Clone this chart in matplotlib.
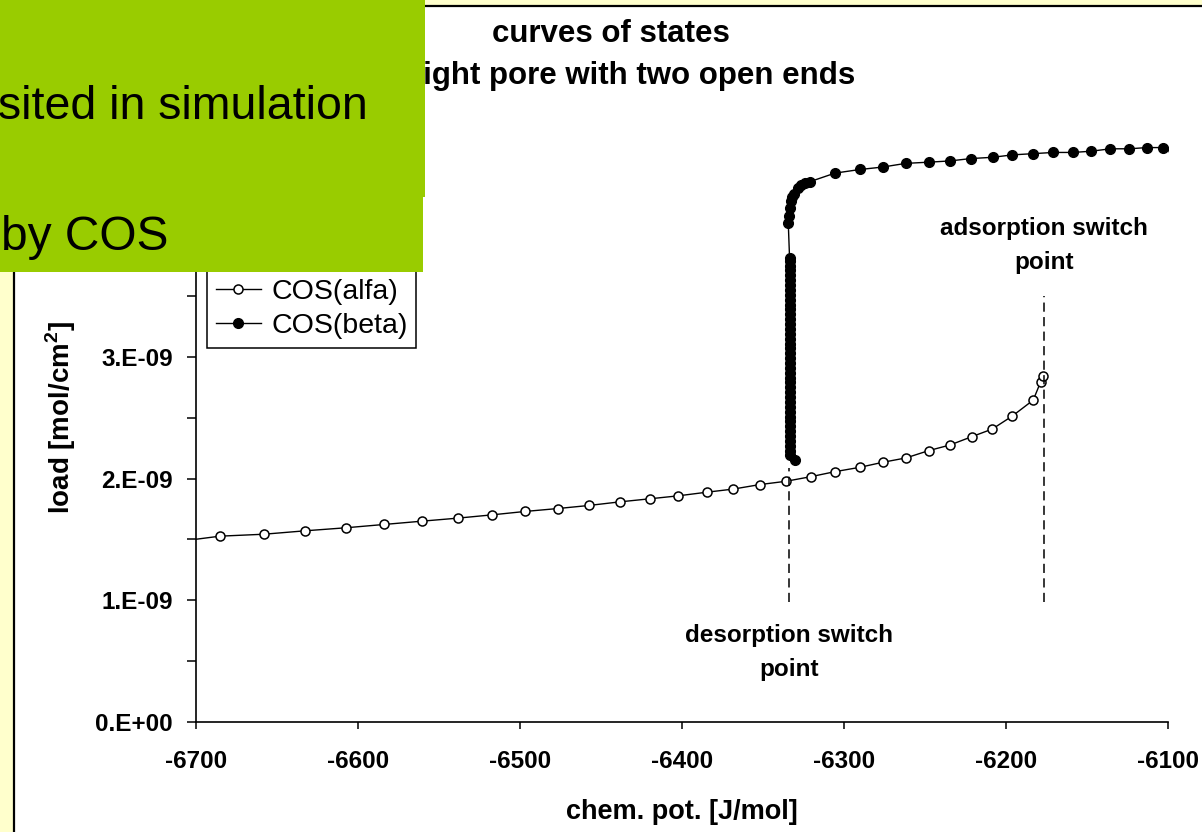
import numpy as np
import matplotlib.pyplot as plt
from matplotlib.patches import Rectangle

plt.rcParams['font.family'] = ['Liberation Sans', 'DejaVu Sans']
plt.rcParams['mathtext.fontset'] = 'custom'
plt.rcParams['mathtext.rm'] = 'Liberation Sans'
plt.rcParams['mathtext.bf'] = 'Liberation Sans:bold'

# chem. pot. [J/mol] / load [1e-9 mol/cm2]
alfa_pot = [-6730.0, -6685.2, -6658.0, -6632.7, -6607.4, -6584.0, -6560.7, -6538.5,
            -6517.3, -6496.9, -6476.7, -6457.6, -6438.3, -6419.9, -6402.6, -6384.8,
            -6368.3, -6351.9, -6335.8, -6320.4, -6305.6, -6290.1, -6276.1, -6261.7,
            -6247.7, -6234.6, -6221.2, -6208.5, -6196.1, -6183.2, -6178.6, -6177.0]
alfa_load = [1.45, 1.527, 1.543, 1.571, 1.596, 1.623, 1.650, 1.675,
             1.702, 1.730, 1.754, 1.779, 1.809, 1.834, 1.858, 1.888,
             1.914, 1.951, 1.978, 2.016, 2.057, 2.093, 2.134, 2.170,
             2.230, 2.276, 2.344, 2.407, 2.514, 2.645, 2.795, 2.842]

# beta branch: steep part at the desorption switch point
beta_col_pot = -6333.6
beta_col_load = [2.19, 2.23, 2.27, 2.31, 2.35, 2.39, 2.43, 2.47, 2.51, 2.55, 2.59,
                 2.63, 2.67, 2.71, 2.75, 2.79, 2.83, 2.87, 2.91, 2.95, 2.99, 3.03,
                 3.07, 3.11, 3.15, 3.19, 3.23, 3.27, 3.31, 3.35, 3.39, 3.43, 3.47,
                 3.51, 3.55, 3.59, 3.63, 3.67, 3.71, 3.75, 3.79, 3.81]
# beta branch: flat upper part
beta_top_pot = [-6334.4, -6334.0, -6333.3, -6332.9, -6332.1, -6330.9, -6328.2, -6326.3,
                -6324.1, -6321.0, -6305.6, -6290.1, -6276.1, -6262.0, -6247.8, -6234.8,
                -6221.5, -6208.3, -6196.1, -6183.2, -6170.8, -6158.6, -6147.5, -6135.5,
                -6123.9, -6113.0, -6103.1, -6096.9]
beta_top_load = [4.10, 4.16, 4.22, 4.28, 4.31, 4.34, 4.39, 4.41,
                 4.43, 4.44, 4.51, 4.54, 4.56, 4.59, 4.60, 4.61,
                 4.63, 4.64, 4.66, 4.67, 4.68, 4.68, 4.69, 4.71,
                 4.71, 4.72, 4.72, 4.71]
beta_hook = (-6330.2, 2.15)

# switch points
desorp_pot, desorp_range = -6334.0, (0.984, 2.09)
adsorp_pot, adsorp_range = -6176.5, (0.984, 3.50)

yticks = [0, 1, 2, 3, 4, 5]
# labels of 4 and 5 sit under the green box in the original
ytick_labels = ['0.E+00', '1.E-09', '2.E-09', '3.E-09', '', '']
xticks = [-6700, -6600, -6500, -6400, -6300, -6200, -6100]

W, H = 1202, 832
fig = plt.figure(figsize=(W / 100, H / 100), dpi=100, facecolor='#FFFFCC')

# white chart area with border
fig.patches.append(Rectangle((14 / W, -0.01), 1.0, 1 - 6 / H + 0.01, transform=fig.transFigure,
                             facecolor='white', edgecolor='black', lw=1.6, zorder=-1))

ax = fig.add_axes([196 / W, (H - 722) / H, 972 / W, 608.5 / H])
ax.set_facecolor('white')

beta_pot = [beta_hook[0]] + [beta_col_pot] * len(beta_col_load) + beta_top_pot
beta_load = [beta_hook[1]] + beta_col_load + beta_top_load

ax.plot(alfa_pot, np.array(alfa_load) * 1e-9, '-o', color='black', lw=1.0,
        mfc='white', mec='black', ms=6.5, mew=1.1, label='COS(alfa)')
ax.plot(beta_pot, np.array(beta_load) * 1e-9, '-o', color='black', lw=1.0,
        mfc='black', mec='black', ms=7, label='COS(beta)')

for p, r in [(desorp_pot, desorp_range), (adsorp_pot, adsorp_range)]:
    ax.plot([p, p], [r[0] * 1e-9, r[1] * 1e-9], color='black', lw=1.1, ls=(0, (6, 3.5)))

ax.set_xlim(-6700, -6100)
ax.set_ylim(0, 5e-9)
ax.set_xticks(xticks)
ax.set_xticklabels([str(t) for t in xticks])
ax.set_yticks([t * 1e-9 for t in yticks])
ax.set_yticklabels(ytick_labels)
ax.set_yticks([0.5e-9, 1.5e-9, 2.5e-9, 3.5e-9, 4.5e-9], minor=True)

for s in ['top', 'right']:
    ax.spines[s].set_visible(False)
for s in ['left', 'bottom']:
    ax.spines[s].set_linewidth(1.2)

ax.tick_params(axis='y', which='both', direction='out', length=6.5, width=1.1, pad=10)
ax.tick_params(axis='x', direction='out', length=5, width=1.1, pad=15)
for lab in ax.get_xticklabels() + ax.get_yticklabels():
    lab.set_fontsize(17.5)
    lab.set_fontweight('bold')

ax.set_xlabel('chem. pot. [J/mol]', fontsize=19.5, fontweight='bold', va='center')
ax.xaxis.set_label_coords(0.5, -90 / 608.5)
ax.set_ylabel(r'load [mol/cm$^{\mathbf{2}}$]', fontsize=20, fontweight='bold', va='center')
ax.yaxis.set_label_coords((61 - 196) / 972, 0.5)

# annotations
ax.text(adsorp_pot, (722 - 227) / 122 * 1e-9, 'adsorption switch', ha='center', va='center',
        fontsize=17.5, fontweight='bold')
ax.text(adsorp_pot, (722 - 261) / 122 * 1e-9, 'point', ha='center', va='center',
        fontsize=17.5, fontweight='bold')
ax.text(desorp_pot, (722 - 635) / 122 * 1e-9, 'desorption switch', ha='center', va='center',
        fontsize=17.5, fontweight='bold')
ax.text(desorp_pot, (722 - 669) / 122 * 1e-9, 'point', ha='center', va='center',
        fontsize=17.5, fontweight='bold')

leg = ax.legend(loc='lower left', bbox_to_anchor=(207 / W, 1 - 348 / H),
                bbox_transform=fig.transFigure, borderaxespad=0, numpoints=1,
                fontsize=20.5, handlelength=1.6, handletextpad=0.35, labelspacing=0.3,
                borderpad=0.3, fancybox=False, framealpha=1, edgecolor='black')
leg.get_frame().set_linewidth(1.1)

# title
fig.text(611 / W, 1 - 34 / H, 'curves of states', ha='center', va='center',
         fontsize=22.5, fontweight='bold', zorder=3)
fig.text(611 / W, 1 - 76 / H, 'straight pore with two open ends', ha='center', va='center',
         fontsize=22.5, fontweight='bold', zorder=3)

# green slide box covering the top left corner
fig.patches.append(Rectangle((0, 1 - 197 / H), 425 / W, 197 / H, transform=fig.transFigure,
                             facecolor='#99CC00', edgecolor='none', zorder=10))
fig.patches.append(Rectangle((0, 1 - 272 / H), 423 / W, 76 / H, transform=fig.transFigure,
                             facecolor='#99CC00', edgecolor='none', zorder=10))
fig.text(-2 / W, 1 - 119 / H, 'sited in simulation', ha='left', va='baseline',
         fontsize=33.5, color='black', zorder=11)
fig.text(1 / W, 1 - 250 / H, 'by COS', ha='left', va='baseline',
         fontsize=34.5, color='black', zorder=11)

fig.savefig('out.png', dpi=100, facecolor=fig.get_facecolor())
